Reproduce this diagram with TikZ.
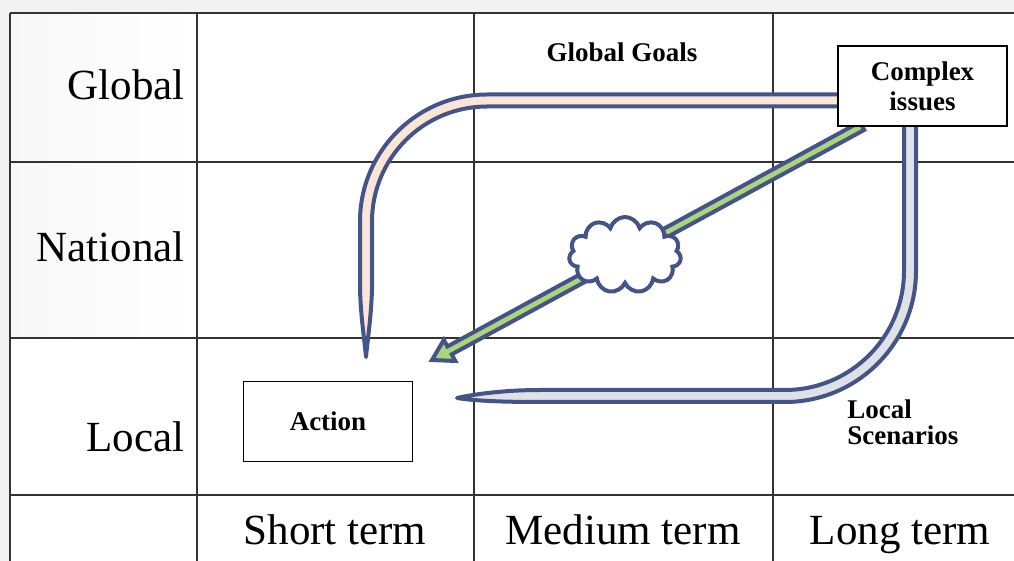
\documentclass[tikz,border=0pt]{standalone}
\usepackage{fontspec}
\setmainfont{Liberation Serif}
\usepackage{tikz}
\usetikzlibrary{shapes.symbols}

\definecolor{ArrowBlue}{RGB}{68,84,136}
\definecolor{PeachFill}{RGB}{251,229,214}
\definecolor{LeafGreen}{RGB}{172,212,122}
\definecolor{MistGray}{RGB}{222,226,231}
\definecolor{GridGray}{RGB}{51,51,51}
\definecolor{PageGray}{RGB}{242,242,242}

\begin{document}
\begin{tikzpicture}[x=0.5pt, y=-0.5pt,
  grid/.style={draw=GridGray, line width=1pt},
  rowlabel/.style={anchor=base east, inner sep=0pt, font=\fontsize{21.5}{24}\selectfont},
  collabel/.style={anchor=base, inner sep=0pt, font=\fontsize{21.5}{24}\selectfont},
  note/.style={inner sep=0pt, align=left, font=\fontsize{13.5}{13}\selectfont\bfseries},
  textbox/.style={rectangle, draw=black, line width=0.6pt, fill=white, inner sep=0pt,
    minimum width=84.5pt, minimum height=40pt, align=center,
    font=\fontsize{13.5}{15}\selectfont\bfseries},
  band/.style={draw=ArrowBlue, line width=2pt, line join=round}
]
\useasboundingbox (0,0) rectangle (1014,561);

% page and table
\fill[PageGray] (0,0) rectangle (1014,561);
\fill[white] (10,13) rectangle (1014,561);
\shade[left color=PageGray!60, right color=white] (10,13) rectangle (197,338);
\foreach \x in {10,197,474,773} \draw[grid] (\x,13) -- (\x,561);
\foreach \y in {13,162,338,495} \draw[grid] (10,\y) -- (1014,\y);

% row and column headings
\node[rowlabel] (global) at (185,100) {Global};
\node[rowlabel] (national) at (185,262) {National};
\node[rowlabel] (local) at (185,452) {Local};
\node[collabel] (short) at (335,545) {Short term};
\node[collabel] (medium) at (623,545) {Medium term};
\node[collabel] (long) at (900,545) {Long term};

% arrow tips
\coordinate (peachtip) at (366,357);
\coordinate (greytip) at (457,398);
\coordinate (greentip) at (432,360);

% upper loop back to the short term
\draw[band, fill=PeachFill] (842,94.5) -- (487,94.5)
  .. controls (416.9,94.5) and (360,151.4) .. (360,221.5) -- (360,290)
  .. controls (361,318) and (364,336) .. (peachtip)
  .. controls (368,336) and (371,318) .. (372,290) -- (372,221.5)
  .. controls (372,158) and (423.5,106.5) .. (487,106.5) -- (842,106.5) -- cycle;

% lower loop through the local scenarios
\draw[band, fill=MistGray] (904,120) -- (916,120) -- (916,271)
  .. controls (916,343.4) and (857.4,402) .. (785,402) -- (540,402)
  .. controls (505,402) and (475,401) .. (greytip)
  .. controls (480,393) and (510,390) .. (540,390) -- (785,390)
  .. controls (850.7,390) and (904,336.7) .. (904,271) -- cycle;

% straight arrow
\draw[band, line join=miter, fill=LeafGreen] (859.85,122.05) -- (447.42,346.49)
  -- (443.83,339.90) -- (greentip) -- (455.31,360.98) -- (451.72,354.39)
  -- (864.15,129.95) -- cycle;

\node[cloud, cloud puffs=11, aspect=1.45, draw=ArrowBlue, line width=2pt, fill=white,
  minimum width=56pt, minimum height=38pt] (fog) at (625,255) {};

% boxes and notes
\node[textbox] (issues) at (922.5,86) {Complex\\issues};
\node[textbox] (action) at (328,421.5) {Action};
\node[note, anchor=base] (goals) at (622,62) {Global Goals};
\node[note, anchor=north west] (scenarios) at (847,399) {Local\\Scenarios};

\end{tikzpicture}
\end{document}
